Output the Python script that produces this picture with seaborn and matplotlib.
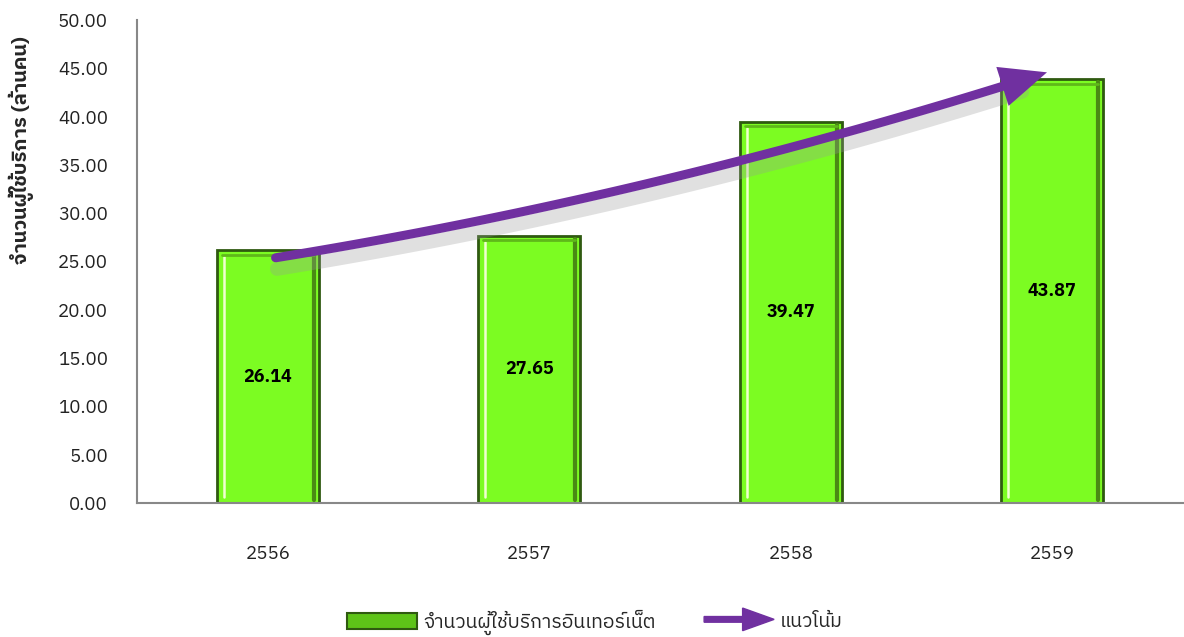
import numpy as np
import pandas as pd
import seaborn as sns
import matplotlib.pyplot as plt
import matplotlib.patches as mpatches
import matplotlib.patheffects as pe
from matplotlib import font_manager
from matplotlib.legend_handler import HandlerPatch
from fontTools.ttLib import TTFont

years = ['2556', '2557', '2558', '2559']
users = [26.14, 27.65, 39.47, 43.87]
y_ticks = [0, 5, 10, 15, 20, 25, 30, 35, 40, 45, 50]

ylabel_txt = 'จำนวนผู้ใช้บริการ (ล้านคน)'
bar_name = 'จำนวนผู้ใช้บริการอินเทอร์เน็ต'
trend_name = 'แนวโน้ม'

# find a font that has Thai glyphs
thai_font = None
for f in font_manager.fontManager.ttflist:
    try:
        cmap = TTFont(f.fname, fontNumber=0, lazy=True).getBestCmap()
        if cmap and 0x0E08 in cmap and 0x0E33 in cmap:
            thai_font = f.name
            if 'Thai' in f.name or 'Tahoma' in f.name:
                break
    except Exception:
        pass

sns.set_style('white')
fams = ['DejaVu Sans']
if thai_font:
    fams = [thai_font, 'DejaVu Sans']
plt.rcParams['font.family'] = fams

df = pd.DataFrame({'year': years, 'users': users})

fig = plt.figure(figsize=(11.84, 6.37), dpi=100)
ax = fig.add_axes([137/1184, 134/637, 1046/1184, 483/637])

sns.barplot(data=df, x='year', y='users', color='#7cfc22', width=0.39,
            edgecolor='#2f5a10', linewidth=2, saturation=1, ax=ax, zorder=2)

# simple bevel look on each bar
for p in ax.patches:
    x0, w, h = p.get_x(), p.get_width(), p.get_height()
    ax.plot([x0 + w*0.07, x0 + w*0.07], [0.6, h - 0.6], color='#f0ffd0', lw=1.8, zorder=3)
    ax.plot([x0 + w*0.95, x0 + w*0.95], [0.3, h - 0.3], color='#4a8a14', lw=3, zorder=3)
    ax.plot([x0 + w*0.05, x0 + w*0.95], [h - 0.45, h - 0.45], color='#5fb81a', lw=2, zorder=3)

for c in ax.containers:
    ax.bar_label(c, labels=['%.2f' % v for v in users], label_type='center',
                 fontsize=13, fontweight='bold', color='black')

# trend: 2nd order polynomial through values
xs = np.arange(len(users))
coef = np.polyfit(xs, users, 2)
xt = np.linspace(0.03, 2.88, 100)
yt = np.polyval(coef, xt)
ax.plot(xt, yt, color='#7030a0', lw=6.5, solid_capstyle='round', zorder=5,
        path_effects=[pe.SimpleLineShadow(offset=(1, -8), shadow_color='#999999', alpha=0.3, linewidth=10),
                      pe.Normal()])
ax.annotate('', xy=(2.99, np.polyval(coef, 2.99)), xytext=(2.86, np.polyval(coef, 2.86)),
            arrowprops=dict(arrowstyle='-|>,head_length=1.6,head_width=0.7', color='#7030a0',
                            lw=0, mutation_scale=21), zorder=6)

ax.set_xlim(-0.5, 3.5)
ax.set_ylim(0, 50)
ax.set_yticks(y_ticks)
ax.set_yticklabels(['%.2f' % v for v in y_ticks])
ax.tick_params(axis='y', length=0, pad=21, labelsize=13.5, labelcolor='#222222')
ax.tick_params(axis='x', length=0, pad=30, labelsize=13.5, labelcolor='#222222')
ax.set_xlabel('')
ax.set_ylabel(ylabel_txt, fontsize=14.5, fontweight='bold')
ax.yaxis.set_label_coords(-0.098, 0.73)
for s in ['top', 'right']:
    ax.spines[s].set_visible(False)
for s in ['left', 'bottom']:
    ax.spines[s].set_color('#888888')
    ax.spines[s].set_linewidth(1.5)


def make_arrow(legend, orig_handle, xdescent, ydescent, width, height, fontsize):
    return mpatches.FancyArrow(0, 0.5*height, width, 0, length_includes_head=True,
                               head_width=1.4*height, head_length=0.45*width, width=0.35*height)


bar_handle = mpatches.Rectangle((0, 0), 1, 1, facecolor='#5ec418', edgecolor='#2f5a10', lw=1.5)
arrow_handle = mpatches.FancyArrow(0, 0, 1, 0, color='#7030a0')
fig.legend([bar_handle, arrow_handle], [bar_name, trend_name], loc='center',
           bbox_to_anchor=(595/1184, 1 - 622/637), ncol=2, frameon=False, fontsize=14,
           handlelength=3.6, handleheight=0.9, columnspacing=2.5, handletextpad=0.3,
           handler_map={mpatches.FancyArrow: HandlerPatch(patch_func=make_arrow)})

fig.savefig('out.png', dpi=100)
